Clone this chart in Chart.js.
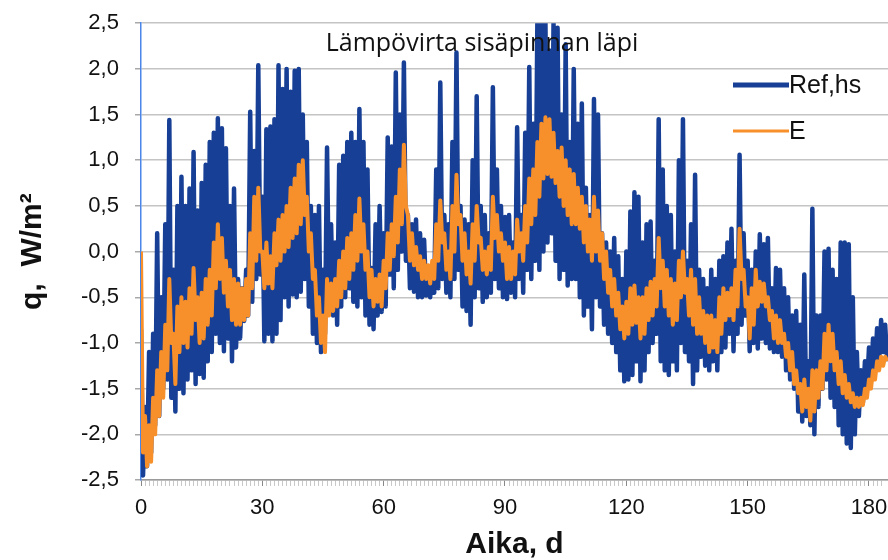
<!DOCTYPE html>
<html>
<head>
<meta charset="utf-8">
<title>Lämpövirta sisäpinnan läpi</title>
<script src="https://cdn.jsdelivr.net/npm/chart.js@4"></script>
<style>
  html, body { margin: 0; padding: 0; background: #fff; }
  #wrap { width: 888px; height: 560px; }
</style>
</head>
<body>
<div id="wrap"><canvas id="chart"></canvas></div>
<script>
const chartTitle = 'Lämpövirta sisäpinnan läpi'
const xTitle = 'Aika, d'
const yTitle = 'q,  W/m²'
const seriesNames = ['Ref,hs', 'E']

// daily maximum / minimum of the heat flux, one value per day (0..184)
const refHsHigh = [
  -0.85, -1.7, -1.1, -0.9, 0.2, -0.5, 0.3, 1.44, -0.2, 0.5,
  0.82, 0.5, 0.69, 1.09, 0.45, 0.75, 0.95, 1.2, 1.3, 1.46,
  1.35, 1.13, 0.5, 0.69, -0.3, -0.4, -0.2, 1.53, 1.1, 2.04,
  0.6, 1.34, 1.37, 1.45, 2.04, 1.78, 2.0, 1.75, 1.98, 2.0,
  1.5, 1.2, 0.5, 0.4, 0.5, -0.2, 1.14, 0.3, 0.1, 0.95,
  1.05, 1.2, 1.3, 1.2, 1.56, 1.2, 0.9, -0.18, 0.3, 0.5,
  0.2, 1.25, 1.15, 1.96, 1.5, 2.07, 0.4, 0.3, 0.35, 0.2,
  0.13, -0.25, -0.2, 0.9, 1.85, 0.4, 0.3, 1.2, 2.18, 0.5,
  0.35, 0.3, 1.0, 1.7, 0.5, 0.4, 0.2, 1.8, 0.9, 0.5,
  0.38, 0.4, 0.1, 1.36, 0.4, 1.3, 2.02, 1.4, 2.5, 2.5,
  2.5, 2.2, 2.5, 2.45, 1.5, 2.27, 1.2, 2.0, 1.4, 1.62,
  0.7, 0.4, 1.67, 1.5, 0.2, 0.1, 0.0, 0.15, -0.05, -0.3,
  0.0, 0.44, 0.65, 0.6, 0.1, 0.3, 0.33, -0.1, 1.45, 0.9,
  0.5, 0.4, 0.0, 1.0, 1.45, -0.1, 0.3, 0.84, -0.2, -0.3,
  -0.4, -0.2, -0.3, -0.1, -0.05, 0.1, 0.25, -0.1, 1.06, 0.2,
  -0.1, -0.2, 0.0, 0.19, 0.08, 0.15, -0.4, -0.18, -0.2, -0.4,
  -0.5, -0.7, -0.65, -0.8, -0.25, -1.2, 0.47, -0.7, -0.7, 0.0,
  0.03, -0.2, -0.3, 0.1, 0.1, 0.08, -0.5, -1.1, -1.3, -1.2,
  -1.05, -0.95, -0.84, -0.75, -0.8
]
const refHsLow = [
  -2.45, -2.35, -2.2, -1.9, -1.8, -1.5, -1.4, -1.6, -1.75, -1.5,
  -1.55, -1.4, -1.3, -1.45, -1.34, -1.38, -1.2, -1.1, -0.9, -1.0,
  -1.09, -0.95, -1.2, -1.05, -0.95, -0.76, -0.7, -0.55, -0.3, -0.25,
  -0.98, -0.9, -0.98, -0.9, -0.75, -0.5, -0.6, -0.47, -0.5, -0.44,
  -0.3, -0.6, -0.9, -1.0, -1.1, -0.9, -0.6, -0.7, -0.8, -0.6,
  -0.5, -0.4, -0.55, -0.6, -0.5, -0.7, -0.8, -0.85, -0.7, -0.66,
  -0.6, -0.25, -0.4, -0.2, 0.0, -0.1, -0.4, -0.44, -0.5, -0.5,
  -0.48, -0.5, -0.45, -0.4, -0.3, -0.45, -0.5, -0.3, -0.2, -0.6,
  -0.65, -0.8, -0.5, -0.4, -0.55, -0.5, -0.45, -0.3, -0.4, -0.5,
  -0.52, -0.45, -0.5, -0.3, -0.45, -0.2, -0.3, -0.1, -0.2, 0.0,
  0.1, 0.2, -0.1, -0.3, -0.2, -0.37, -0.3, -0.3, -0.5, -0.7,
  -0.6, -0.85, -0.5, -0.6, -0.8, -0.9, -1.0, -1.1, -1.3, -1.42,
  -1.4, -1.35, -1.2, -1.42, -1.3, -1.1, -1.0, -0.9, -1.2, -1.3,
  -1.35, -1.2, -1.3, -1.0, -1.1, -1.2, -1.45, -1.3, -1.15, -1.25,
  -1.3, -1.2, -1.3, -1.1, -1.05, -0.9, -1.09, -0.9, -0.8, -0.7,
  -1.09, -1.0, -1.06, -0.95, -1.0, -1.06, -1.1, -1.1, -1.15, -1.3,
  -1.4, -1.5, -1.75, -1.86, -1.8, -1.9, -2.0, -1.7, -1.5, -1.4,
  -1.6, -1.7, -1.9, -2.0, -2.1, -2.15, -2.0, -1.8, -1.65, -1.5,
  -1.4, -1.3, -1.2, -1.1, -1.2
]
const eHigh = [
  0.0, -1.8, -1.9, -1.6, -1.3, -1.1, -0.8, -0.3, -0.9, -0.6,
  -0.5, -0.55, -0.4, -0.18, -0.5, -0.45, -0.3, -0.2, 0.1, 0.3,
  0.15, -0.1, -0.2, -0.3, -0.35, -0.4, -0.3, 0.2, 0.6, 0.7,
  0.0, 0.1, -0.05, 0.2, 0.35, 0.4, 0.5, 0.7, 0.8, 0.95,
  1.0, 0.6, 0.2, -0.2, -0.5, -0.7, -0.3, -0.35, -0.3, -0.1,
  0.0, 0.15, 0.2, 0.4, 0.58, 0.3, 0.0, -0.2, -0.3, -0.25,
  -0.1, 0.2, 0.3, 0.6, 0.9, 1.17, 0.4, 0.2, 0.05, -0.05,
  -0.1, -0.15, -0.1, 0.3, 0.56, 0.2, 0.0, 0.5, 0.84, 0.4,
  0.2, 0.0, 0.3, 0.5, 0.15, 0.0, 0.05, 0.6, 0.4, 0.2,
  0.1, 0.05, 0.0, 0.35, 0.2, 0.5, 0.8, 0.9, 1.2, 1.4,
  1.47, 1.45, 1.3, 1.1, 1.14, 1.0, 0.9, 0.85, 0.7, 0.6,
  0.5, 0.35, 0.6, 0.45, 0.2, 0.0, -0.2, -0.3, -0.45, -0.6,
  -0.55, -0.4, -0.37, -0.5, -0.5, -0.4, -0.33, -0.3, 0.15, -0.1,
  -0.2, -0.3, -0.35, -0.1, 0.0, -0.3, -0.2, -0.3, -0.5, -0.65,
  -0.7, -0.7, -0.75, -0.5, -0.4, -0.45, -0.4, -0.2, 0.25, -0.2,
  -0.5, -0.4, -0.2, -0.33, -0.35, -0.5, -0.65, -0.7, -0.75, -0.9,
  -1.0, -1.1, -1.3, -1.45, -1.4, -1.5, -1.3, -1.3, -1.2, -0.9,
  -0.8, -0.9, -1.1, -1.2, -1.35, -1.45, -1.55, -1.6, -1.6, -1.5,
  -1.4, -1.3, -1.2, -1.15, -1.15
]
const eLow = [
  -2.2, -2.35, -2.3, -2.0, -1.8, -1.6, -1.3, -1.0, -1.45, -1.1,
  -1.0, -1.05, -0.9, -0.75, -1.0, -0.95, -0.8, -0.7, -0.4, -0.3,
  -0.45, -0.6, -0.75, -0.8, -0.8, -0.75, -0.7, -0.4, -0.1, 0.0,
  -0.4, -0.35, -0.4, -0.15, -0.1, 0.0, 0.05, 0.15, 0.2, 0.3,
  0.4, 0.0, -0.3, -0.7, -1.0, -1.1, -0.7, -0.65, -0.6, -0.5,
  -0.4, -0.3, -0.2, -0.1, 0.0, -0.2, -0.5, -0.6, -0.55, -0.6,
  -0.4, -0.2, -0.05, 0.1, 0.3, 0.5, -0.1, -0.15, -0.2, -0.3,
  -0.3, -0.35, -0.3, -0.1, 0.1, -0.2, -0.3, 0.0, 0.3, -0.1,
  -0.25, -0.35, -0.1, 0.1, -0.2, -0.25, -0.2, 0.15, 0.0, -0.1,
  -0.3, -0.3, -0.25, 0.0, -0.1, 0.1, 0.3, 0.4, 0.6, 0.8,
  0.85, 0.82, 0.75, 0.6, 0.5, 0.4, 0.3, 0.3, 0.25, 0.1,
  0.0, -0.1, 0.0, -0.1, -0.3, -0.45, -0.6, -0.7, -0.85, -0.95,
  -0.9, -0.8, -0.78, -0.95, -0.9, -0.75, -0.7, -0.6, -0.4, -0.6,
  -0.7, -0.8, -0.75, -0.5, -0.45, -0.7, -0.8, -0.9, -0.9, -1.0,
  -1.1, -1.05, -1.1, -0.9, -0.75, -0.7, -0.75, -0.6, -0.3, -0.6,
  -0.95, -0.8, -0.6, -0.55, -0.6, -0.75, -0.95, -1.0, -1.0, -1.15,
  -1.3, -1.45, -1.55, -1.75, -1.7, -1.85, -1.75, -1.6, -1.5, -1.3,
  -1.2, -1.3, -1.45, -1.55, -1.6, -1.65, -1.7, -1.7, -1.68, -1.6,
  -1.5, -1.4, -1.3, -1.25, -1.2
]

// daily maximum at the start of each day, daily minimum half a day later
function dailyPoints(high, low) {
  const pts = []
  high.forEach((h, d) => {
    pts.push({x: d, y: h})
    pts.push({x: d + 0.5, y: low[d]})
  })
  return pts
}

const colors = ['#173f95', '#f7902a']
const tickFont = {family: '"Liberation Sans", Arial, sans-serif', size: 22}
const titleFont = {family: '"Liberation Sans", Arial, sans-serif', size: 30, weight: 'bold'}

// chart title and legend sit inside the plot area
const overlay = {
  id: 'overlay',
  afterDraw(chart) {
    const ctx = chart.ctx
    ctx.save()
    ctx.fillStyle = '#111'
    ctx.textBaseline = 'middle'
    ctx.font = '25px "Open Sans", sans-serif'
    ctx.textAlign = 'center'
    ctx.fillText(chartTitle, 482, 44)

    ctx.font = '25px "Liberation Sans", Arial, sans-serif'
    ctx.textAlign = 'left'
    chart.data.datasets.forEach((ds, i) => {
      const y = 85 + i * 46
      ctx.strokeStyle = ds.borderColor
      ctx.lineWidth = i === 0 ? 5 : 3
      ctx.beginPath()
      ctx.moveTo(733, y)
      ctx.lineTo(789, y)
      ctx.stroke()
      ctx.fillStyle = '#111'
      ctx.fillText(ds.label, 789, y + 1)
    })
    ctx.restore()
  }
}

new Chart(document.getElementById('chart'), {
  type: 'line',
  data: {
    datasets: [
      {label: seriesNames[0], data: dailyPoints(refHsHigh, refHsLow), borderColor: colors[0], borderWidth: 4.5, order: 2},
      {label: seriesNames[1], data: dailyPoints(eHigh, eLow), borderColor: colors[1], borderWidth: 4, order: 1}
    ]
  },
  options: {
    responsive: true,
    maintainAspectRatio: false,
    animation: false,
    elements: {
      point: {radius: 0},
      line: {tension: 0, borderJoinStyle: 'round'}
    },
    layout: {padding: {top: 10, right: 0, left: 0, bottom: 0}},
    plugins: {
      legend: {display: false},
      tooltip: {enabled: false}
    },
    scales: {
      x: {
        type: 'linear',
        min: 0,
        max: 184.7,
        afterFit: (scale) => {
          scale.height = 80
          // the plot runs right up to the canvas edge
          scale.paddingRight = 0
        },
        border: {color: '#9a9a9a', width: 1.5},
        grid: {
          drawOnChartArea: false,
          tickLength: 6,
          tickColor: (c) => (c.tick && c.tick.value % 30 === 0 ? '#888' : '#c8c8c8')
        },
        ticks: {
          stepSize: 1,
          autoSkip: false,
          maxRotation: 0,
          padding: 9,
          color: '#111',
          font: tickFont,
          callback: (v) => (v % 30 === 0 ? v : '')
        },
        title: {display: true, text: xTitle, color: '#111', font: titleFont, padding: {top: 4, bottom: -3}}
      },
      y: {
        min: -2.5,
        max: 2.5,
        afterFit: (scale) => { scale.width = 141 },
        border: {color: '#4a86e8', width: 1.5},
        grid: {color: '#c4c4c4', lineWidth: 1.5, tickLength: 6, tickColor: '#a8a8a8'},
        ticks: {
          stepSize: 0.5,
          padding: 10,
          color: '#111',
          font: tickFont,
          // trailing space keeps the labels clear of the tick marks
          callback: (v) => v.toFixed(1).replace('.', ',') + ' '
        },
        title: {display: true, text: yTitle, color: '#111', font: titleFont, padding: {top: 15, bottom: 0}}
      }
    }
  },
  plugins: [overlay]
})
</script>
</body>
</html>
